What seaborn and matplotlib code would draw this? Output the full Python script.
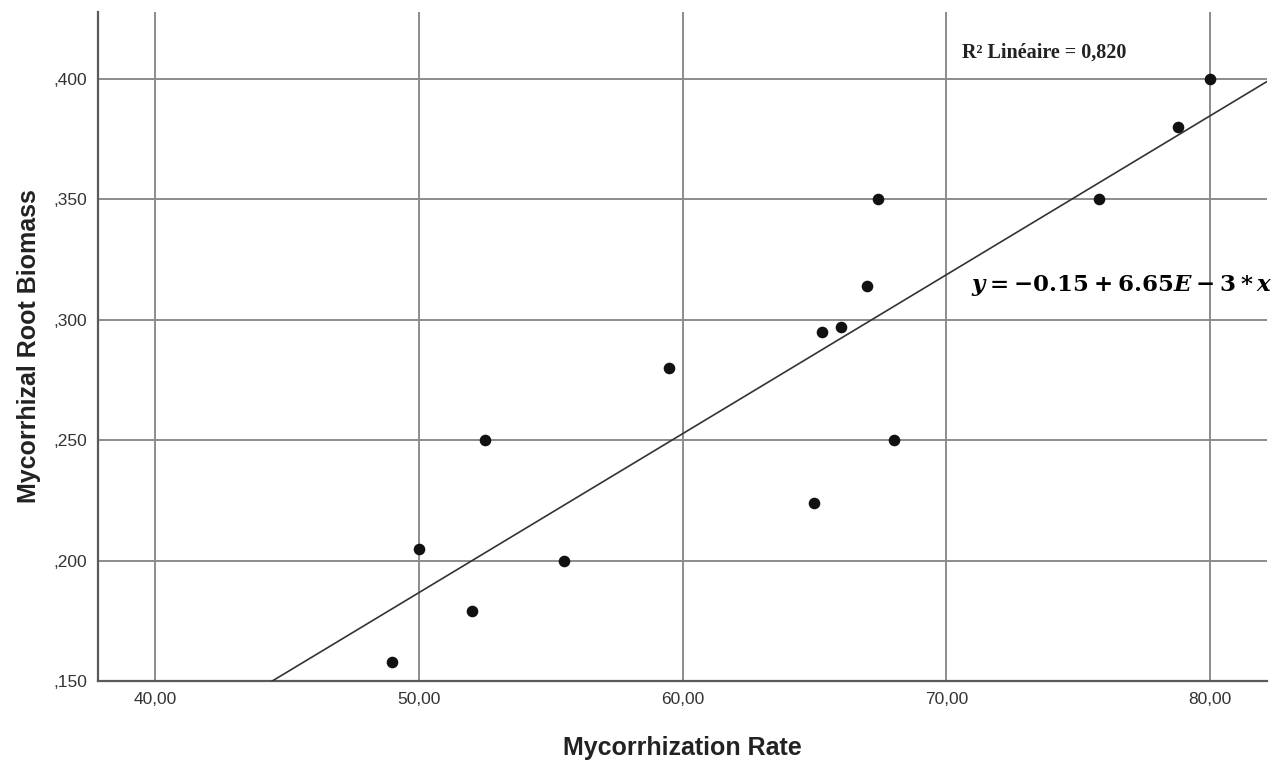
import numpy as np
import pandas as pd
import seaborn as sns
import matplotlib.pyplot as plt
from matplotlib.ticker import FuncFormatter

# values
rate = [49.0, 50.0, 52.0, 52.5, 55.5, 59.5, 65.0, 65.3, 66.0, 67.0, 67.4, 68.0, 75.8, 78.8, 80.0]
biomass = [0.158, 0.205, 0.179, 0.250, 0.200, 0.280, 0.224, 0.295, 0.297, 0.314, 0.350, 0.250, 0.350, 0.380, 0.400]
x_ticks = [40, 50, 60, 70, 80]
y_ticks = [0.150, 0.200, 0.250, 0.300, 0.350, 0.400]
r2_label = "R² Linéaire = 0,820"
eq_label = r"$y = -0.15 + 6.65E - 3 * x$"

df = pd.DataFrame({"Mycorrhization Rate": rate, "Mycorrhizal Root Biomass": biomass})

sns.set_style("white")
plt.rcParams["font.family"] = ["Liberation Sans", "DejaVu Sans"]
plt.rcParams["mathtext.fontset"] = "custom"
plt.rcParams["mathtext.rm"] = "DejaVu Serif:bold"
plt.rcParams["mathtext.it"] = "DejaVu Serif:italic:bold"
plt.rcParams["mathtext.bf"] = "DejaVu Serif:bold"

fig = plt.figure(figsize=(12.88, 7.60), dpi=100)
ax = fig.add_axes([0.0761, 0.1039, 0.9076, 0.8803])
ax.set_xlim(37.84, 82.16)
ax.set_ylim(0.150, 0.4278)

ax.set_xticks(x_ticks)
ax.set_yticks(y_ticks)
ax.grid(True, color="#8c8c8c", linewidth=1.4)
ax.set_axisbelow(True)

# scatter + least-squares line across the whole x range
sns.regplot(data=df, x="Mycorrhization Rate", y="Mycorrhizal Root Biomass", ax=ax,
            ci=None, truncate=False,
            scatter_kws=dict(s=70, color="#111111", alpha=1, linewidths=0, zorder=4),
            line_kws=dict(color="#333333", linewidth=1.2, zorder=3))

ax.xaxis.set_major_formatter(FuncFormatter(lambda v, p: f"{v:.2f}".replace(".", ",")))
ax.yaxis.set_major_formatter(FuncFormatter(lambda v, p: f"{v:.3f}".replace("0.", ",", 1)))
ax.tick_params(length=0, labelsize=12.5, labelcolor="#333333", pad=8)

for side in ["top", "right"]:
    ax.spines[side].set_visible(False)
for side in ["left", "bottom"]:
    ax.spines[side].set_color("#5a5a5a")
    ax.spines[side].set_linewidth(1.6)

ax.set_xlabel("Mycorrhization Rate", fontsize=18, fontweight="bold", color="#222222", labelpad=21)
ax.set_ylabel("Mycorrhizal Root Biomass", fontsize=18, fontweight="bold", color="#222222", labelpad=9)

ax.text(70.6, 0.411, r2_label, fontsize=14.5, fontweight="bold", family="Liberation Serif",
        color="#222222", va="center")
ax.text(70.95, 0.3143, eq_label, fontsize=16.5, color="black", va="center", clip_on=False)

fig.savefig("out.png", dpi=100)
